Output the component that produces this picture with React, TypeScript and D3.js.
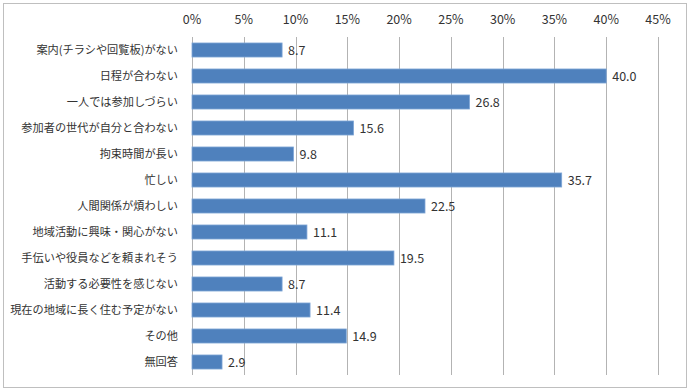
import { useEffect, useRef } from 'react';
import { select, scaleLinear, scaleBand, range } from 'd3';

const width = 690;
const height = 391;
const margin = { top: 37, right: 30, bottom: 16, left: 192 };

const categories = [
  '案内(チラシや回覧板)がない',
  '日程が合わない',
  '一人では参加しづらい',
  '参加者の世代が自分と合わない',
  '拘束時間が長い',
  '忙しい',
  '人間関係が煩わしい',
  '地域活動に興味・関心がない',
  '手伝いや役員などを頼まれそう',
  '活動する必要性を感じない',
  '現在の地域に長く住む予定がない',
  'その他',
  '無回答',
];
const values = [8.7, 40.0, 26.8, 15.6, 9.8, 35.7, 22.5, 11.1, 19.5, 8.7, 11.4, 14.9, 2.9];
const ticks = [0, 5, 10, 15, 20, 25, 30, 35, 40, 45];

const font = '"Noto Sans CJK JP", "Noto Sans", sans-serif';

export default function App() {
  const ref = useRef<SVGSVGElement>(null);

  useEffect(() => {
    const svg = select(ref.current);
    svg.selectAll('*').remove();

    const x = scaleLinear().domain([0, 45]).range([margin.left, width - margin.right - 2]);
    const y = scaleBand()
      .domain(range(categories.length).map(String))
      .range([margin.top, height - margin.bottom])
      .paddingInner(0.46)
      .paddingOuter(0.23);

    // outer frame
    svg
      .append('rect')
      .attr('x', 3.5)
      .attr('y', 3.5)
      .attr('width', width - 7)
      .attr('height', height - 7)
      .attr('fill', '#fff')
      .attr('stroke', '#bfbfbf');

    // gridlines
    svg
      .selectAll('line.grid')
      .data(ticks)
      .join('line')
      .attr('x1', (d) => Math.round(x(d)) + 0.5)
      .attr('x2', (d) => Math.round(x(d)) + 0.5)
      .attr('y1', margin.top)
      .attr('y2', height - margin.bottom)
      .attr('stroke', '#b3b3b3');

    // top tick labels
    svg
      .selectAll('text.tick')
      .data(ticks)
      .join('text')
      .attr('x', (d) => x(d))
      .attr('y', 24)
      .attr('text-anchor', 'middle')
      .attr('font-family', font)
      .attr('font-size', 12.5)
      .attr('fill', '#333')
      .text((d) => `${d}%`);

    // bars
    svg
      .selectAll('rect.bar')
      .data(values)
      .join('rect')
      .attr('x', x(0))
      .attr('y', (d, i) => y(String(i))!)
      .attr('width', (d) => x(d) - x(0))
      .attr('height', y.bandwidth())
      .attr('fill', '#4f81bd')
      .attr('stroke', '#7fa6d6')
      .attr('stroke-width', 0.8);

    // value labels
    svg
      .selectAll('text.val')
      .data(values)
      .join('text')
      .attr('x', (d) => x(d) + 6)
      .attr('y', (d, i) => y(String(i))! + y.bandwidth() / 2)
      .attr('dy', '0.36em')
      .attr('font-family', font)
      .attr('font-size', 12.5)
      .attr('fill', '#333')
      .text((d) => d.toFixed(1));

    // category labels
    svg
      .selectAll('text.cat')
      .data(categories)
      .join('text')
      .attr('x', 178)
      .attr('y', (d, i) => y(String(i))! + y.bandwidth() / 2)
      .attr('dy', '0.36em')
      .attr('text-anchor', 'end')
      .attr('font-family', font)
      .attr('font-size', 11.2)
      .attr('fill', '#333')
      .text((d) => d);
  }, []);

  return (
    <div style={{ position: 'absolute', left: 0, top: 0 }}>
      <svg ref={ref} width={width} height={height} />
    </div>
  );
}
